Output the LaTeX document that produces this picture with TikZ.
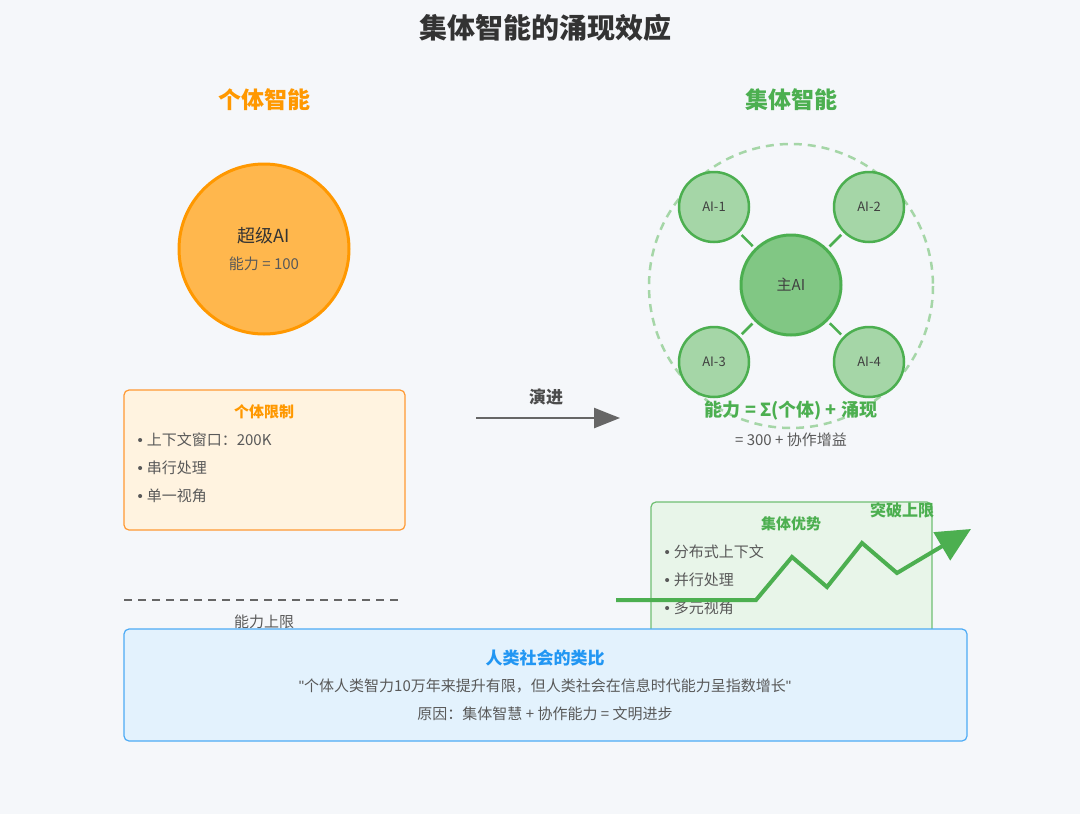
\documentclass[tikz,border=0pt]{standalone}
\usepackage{fontspec}
\setmainfont{Noto Sans CJK SC}
\newfontfamily\latf{Liberation Sans}
\usetikzlibrary{arrows.meta}
\definecolor{bg}{HTML}{F5F7FA}
\definecolor{org}{HTML}{FF9800}
\definecolor{orgl}{HTML}{FFB74D}
\definecolor{orgb}{HTML}{FFF3E0}
\definecolor{grn}{HTML}{4CAF50}
\definecolor{grnm}{HTML}{81C784}
\definecolor{grnl}{HTML}{A5D6A7}
\definecolor{grnb}{HTML}{E8F5E9}
\definecolor{blu}{HTML}{2196F3}
\definecolor{blub}{HTML}{E3F2FD}
\newcommand{\bu}{{\latf •}\hspace{4pt}}
\begin{document}
\begin{tikzpicture}[x=1pt,y=-1pt,
  txt/.style={font=\fontsize{15}{18}\selectfont,text=black!65},
  bul/.style={txt,anchor=west},
  sat/.style={circle,minimum size=70pt,fill=grnl,draw=grn,line width=2.5pt,font=\fontsize{13}{16}\selectfont,text=black!75},
  box/.style={rounded corners=5pt,line width=1.2pt}]
\fill[bg] (0,0) rectangle (1080,814);
\node[font=\bfseries\fontsize{28}{32}\selectfont,text=black!80] (title) at (545,28) {集体智能的涌现效应};
\node[font=\bfseries\fontsize{23}{28}\selectfont,text=org] (lh) at (264,100) {个体智能};
\node[font=\bfseries\fontsize{23}{28}\selectfont,text=grn] (rh) at (791,100) {集体智能};
% left
\node[circle,minimum size=170pt,fill=orgl,draw=org,line width=3pt] (big) at (264,249) {};
\node[font=\fontsize{18}{22}\selectfont,text=black!80] (bigt) at (264,236) {超级AI};
\node[txt] (bigc) at (264,264) {能力 = 100};
\draw[box,fill=orgb,draw=orange!80] (124,390) rectangle (405,530);
\node[font=\bfseries\fontsize{15}{18}\selectfont,text=org] (lim) at (264,412) {个体限制};
\node[bul] (l1) at (134,440) {\bu 上下文窗口：200K};
\node[bul] (l2) at (134,468) {\bu 串行处理};
\node[bul] (l3) at (134,496) {\bu 单一视角};
\coordinate (d1) at (124,600); \coordinate (d2) at (400,600);
\draw[black!60,line width=2.5pt,dash pattern=on 8pt off 6pt] (d1) -- (d2);
\node[txt] (cap) at (264,622) {能力上限};
% evolve arrow
\node[font=\bfseries\fontsize{17}{20}\selectfont,text=black!70] (evo) at (546,397) {演进};
\coordinate (e1) at (476,418); \coordinate (e2) at (620,418);
\draw[black!60,line width=2.5pt,-{Triangle[length=26pt,width=20pt]}] (e1) -- (e2);
% right
\draw[grnl,line width=2.5pt,dash pattern=on 8pt off 6pt] (791,286) circle (142);
\node[circle,minimum size=100pt,fill=grnm,draw=grn,line width=3pt,font=\fontsize{15}{18}\selectfont,text=black!75] (main) at (791,285) {主AI};
\node[sat] (a1) at (714,207) {AI-1};
\node[sat] (a2) at (869,207) {AI-2};
\node[sat] (a3) at (714,362) {AI-3};
\node[sat] (a4) at (869,362) {AI-4};
\foreach \s in {a1,a2,a3,a4} \draw[grn,line width=2.5pt,shorten <=3pt,shorten >=3pt] (\s) -- (main);
\node[font=\bfseries\fontsize{18}{22}\selectfont,text=grn] (form) at (791,411) {能力 = Σ(个体) + 涌现};
\node[txt] (form2) at (791,440) {= 300 + 协作增益};
\draw[box,fill=grnb,draw=grn!80] (651,502) rectangle (932,660);
\node[font=\bfseries\fontsize{15}{18}\selectfont,text=grn] (adv) at (791,524) {集体优势};
\node[bul] (r1) at (661,552) {\bu 分布式上下文};
\node[bul] (r2) at (661,580) {\bu 并行处理};
\node[bul] (r3) at (661,608) {\bu 多元视角};
\node[font=\bfseries\fontsize{16}{19}\selectfont,text=grn] (brk) at (902,510) {突破上限};
\coordinate (z0) at (616,600); \coordinate (z1) at (756,600); \coordinate (z2) at (792,557);
\coordinate (z3) at (827,587); \coordinate (z4) at (862,543); \coordinate (z5) at (897,573); \coordinate (z6) at (971,529);
\draw[grn,line width=4pt,-{Triangle[length=34pt,width=32pt]}] (z0) -- (z1) -- (z2) -- (z3) -- (z4) -- (z5) -- (z6);
% bottom
\draw[box,fill=blub,draw=blu!80] (124,629) rectangle (967,741);
\node[font=\bfseries\fontsize{17}{20}\selectfont,text=blu] (hum) at (545,658) {人类社会的类比};
\node[txt] (q) at (545,686) {{\latf "}个体人类智力10万年来提升有限，但人类社会在信息时代能力呈指数增长{\latf "}};
\node[txt] (why) at (545,714) {原因：集体智慧 + 协作能力 = 文明进步};
\end{tikzpicture}
\end{document}
